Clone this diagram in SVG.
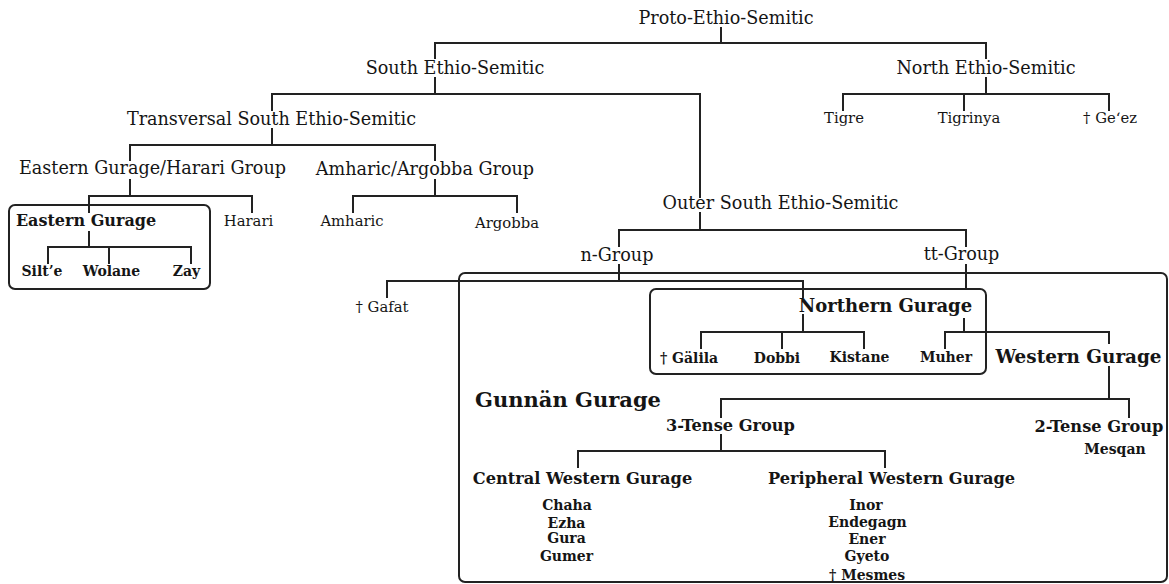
<svg xmlns="http://www.w3.org/2000/svg" width="1169" height="584" viewBox="0 0 1169 584">
<style>
text{font-family:"DejaVu Serif","Liberation Serif",serif;fill:#151515;text-anchor:middle}
.lv{font-size:17.6px}
.lf{font-size:14.8px}
.bl{font-size:14px;font-weight:bold}
.bg{font-size:16.2px;font-weight:bold}
.ln{fill:none;stroke:#222;stroke-width:2;stroke-linecap:square}
.box{fill:none;stroke:#222;stroke-width:2}
</style>
<rect width="1169" height="584" fill="#fff"/>
<g id="connectors" class="ln">
<path d="M721 28V43M435 43H986"/>
<path d="M435 43V58M435 78V94M272 94H700"/>
<path d="M986 43V58M986 78V94M843 94H1109M843 94V110M964 94V110M1109 94V110"/>
<path d="M272 94V110M272 129V145M130 145H435"/>
<path d="M700 94V197M700 213V230M619 230H966"/>
<path d="M130 145V160M130 180V196M89 196H252M252 196V212M89 196V212"/>
<path d="M435 145V160M435 180V196M353 196H517M353 196V212M517 196V212"/>
<path d="M89 232V247M48 247H191M48 247V263M109 247V263M191 247V263"/>
<path d="M619 230V246M619 265V281M387 281H803M387 281V297M803 281V297"/>
<path d="M966 230V246M966 265V289"/>
<path d="M803 315V332M701 332H864M701 332V348M782 332V348M864 332V348"/>
<path d="M964 319V332M945 332H1109M945 332V348M1109 332V343"/>
<path d="M1109 367V399M721 399H1129M721 399V417M1129 399V417"/>
<path d="M721 435V451M578 451H885M578 451V467M885 451V467"/>
</g>
<g id="proto"><text class="lv" x="726" y="24">Proto-Ethio-Semitic</text></g>
<g id="south"><text class="lv" x="455" y="74">South Ethio-Semitic</text></g>
<g id="north"><text class="lv" x="986" y="74">North Ethio-Semitic</text></g>
<g id="tigre"><text class="lf" x="844" y="123">Tigre</text></g>
<g id="tigrinya"><text class="lf" x="969" y="123">Tigrinya</text></g>
<g id="geez"><text class="lf" x="1110" y="123">† Ge‘ez</text></g>
<g id="transversal"><text class="lv" x="271.5" y="125">Transversal South Ethio-Semitic</text></g>
<g id="outer"><text class="lv" x="780.5" y="209">Outer South Ethio-Semitic</text></g>
<g id="eg-harari"><text class="lv" x="152.5" y="174">Eastern Gurage/Harari Group</text></g>
<g id="amh-arg"><text class="lv" x="425" y="175">Amharic/Argobba Group</text></g>
<g id="harari"><text class="lf" x="248.5" y="226">Harari</text></g>
<g id="amharic"><text class="lf" x="352" y="226">Amharic</text></g>
<g id="argobba"><text class="lf" x="507" y="228">Argobba</text></g>
<g id="eastern-gurage">
<rect class="box" x="9" y="205" width="201" height="84" rx="6"/>
<text x="86" y="226" style="font-size:16px;font-weight:bold">Eastern Gurage</text>
</g>
<g id="silte"><text class="bl" x="42" y="276">Silt’e</text></g>
<g id="wolane"><text class="bl" x="111.5" y="276">Wolane</text></g>
<g id="zay"><text class="bl" x="186.5" y="276">Zay</text></g>
<g id="n-group"><text class="lv" x="617" y="261">n-Group</text></g>
<g id="tt-group"><text class="lv" x="961.5" y="260">tt-Group</text></g>
<g id="gafat"><text class="lf" x="382" y="312">† Gafat</text></g>
<g id="gunnan-gurage">
<rect class="box" x="459" y="273" width="708" height="309" rx="6"/>
<text x="568" y="407" style="font-size:21px;font-weight:bold">Gunnän Gurage</text>
</g>
<g id="northern-gurage">
<rect class="box" x="650" y="289" width="336" height="85" rx="6"/>
<text x="885.5" y="312" style="font-size:18px;font-weight:bold">Northern Gurage</text>
</g>
<g id="galila"><text class="bl" x="689" y="363">† Gälila</text></g>
<g id="dobbi"><text class="bl" x="777" y="363">Dobbi</text></g>
<g id="kistane"><text class="bl" x="859.5" y="362">Kistane</text></g>
<g id="muher"><text class="bl" x="946" y="362">Muher</text></g>
<g id="western-gurage"><text x="1078.5" y="363" style="font-size:18.4px;font-weight:bold">Western Gurage</text></g>
<g id="three-tense"><text class="bg" x="730.5" y="431">3-Tense Group</text></g>
<g id="two-tense"><text class="bg" x="1099" y="432">2-Tense Group</text></g>
<g id="mesqan"><text class="bl" x="1115" y="454">Mesqan</text></g>
<g id="central-western"><text class="bg" x="582.5" y="484">Central Western Gurage</text></g>
<g id="peripheral-western"><text class="bg" x="891.5" y="484">Peripheral Western Gurage</text></g>
<g id="chaha"><text class="bl" x="567" y="510">Chaha</text></g>
<g id="ezha"><text class="bl" x="566.5" y="528">Ezha</text></g>
<g id="gura"><text class="bl" x="566.5" y="543">Gura</text></g>
<g id="gumer"><text class="bl" x="566.5" y="561">Gumer</text></g>
<g id="inor"><text class="bl" x="866" y="510">Inor</text></g>
<g id="endegagn"><text class="bl" x="867.5" y="527">Endegagn</text></g>
<g id="ener"><text class="bl" x="867" y="544">Ener</text></g>
<g id="gyeto"><text class="bl" x="867" y="561">Gyeto</text></g>
<g id="mesmes"><text class="bl" x="867" y="580">† Mesmes</text></g>
</svg>
